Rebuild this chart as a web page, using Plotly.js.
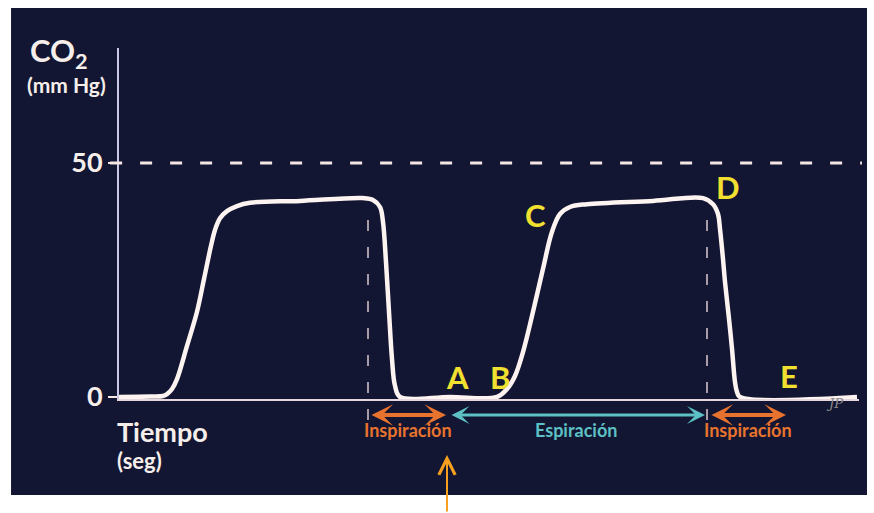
<!DOCTYPE html>
<html>
<head>
<meta charset="utf-8">
<script src="https://cdn.plot.ly/plotly-3.0.1.min.js"></script>
<style>html,body{margin:0;padding:0;background:#fff;}#chart{width:874px;height:513px;}</style>
</head>
<body>
<div id="chart"></div>
<script>
// Time (arbitrary seconds) and CO2 (mm Hg)
const time = [0.00,0.31,0.44,0.48,0.53,0.58,0.68,0.78,0.85,0.92,0.96,1.01,1.08,1.18,1.31,1.81,2.44,2.54,2.61,2.64,2.67,2.70,2.73,2.76,2.81,3.31,3.78,
              3.88,3.96,4.04,4.14,4.24,4.33,4.41,4.51,4.68,5.34,5.84,5.94,5.99,6.01,6.04,6.06,6.10,6.13,6.16,6.18,6.21,7.38];
const co2  = [0,0.1,0.2,0.6,1.7,3.8,10.9,18.2,25.2,32.3,35.7,38.2,39.7,40.8,41.5,41.9,42.5,42.1,40.6,37.4,28.8,18.2,8.1,2.4,0,0,0,
              1.7,4.5,9.6,18.2,27.4,35.3,39.1,40.6,41.2,41.9,42.5,41.2,39.1,35.9,29.5,24.6,16.7,10.3,3.2,1.1,0,0];
const yTickVals = [0, 50];
const yTickText = ['0', '50'];
const refLevel = 50;
const expEnds = [2.49, 5.88];           // end of expiration (dashed verticals)
const phaseNames = ['Inspiración', 'Espiración', 'Inspiración'];
const phaseStart = [2.51, 3.31, 5.91];
const phaseEnd   = [3.27, 5.86, 6.67];
const phaseLabelX = [2.89, 4.57, 6.29];
const pointNames = ['A', 'B', 'C', 'D', 'E'];
const pointX = [3.38, 3.81, 4.16, 6.09, 6.70];
const pointY = [4.3, 4.3, 38.9, 44.9, 4.5];

const BG = '#121632';
const ORANGE = '#e8732e';
const TEAL = '#5cc0c4';
const YELLOW = '#f2e030';
const FONT = 'Lato, "Open Sans", sans-serif';
const phaseColors = [ORANGE, TEAL, ORANGE];

const trace = {
  x: time, y: co2, type: 'scatter', mode: 'lines',
  line: {color: '#fdf3f1', width: 4.5, shape: 'spline', smoothing: 1.0},
  hoverinfo: 'skip', showlegend: false
};

const shapes = [
  {type: 'rect', xref: 'paper', yref: 'paper', x0: -0.1459, x1: 1.0108, y0: -0.2735, y1: 1.114,
   fillcolor: BG, line: {width: 0}, layer: 'below'},
  {type: 'line', xref: 'paper', yref: 'y', x0: -0.012, x1: 1.004, y0: refLevel, y1: refLevel,
   line: {color: '#f4e6e4', width: 3, dash: '12px,18px'}}
];
expEnds.forEach(t => shapes.push({type: 'line', xref: 'x', yref: 'paper', x0: t, x1: t, y0: -0.0598, y1: 0.547,
  line: {color: '#d9c9cf', width: 1.5, dash: '11px,16px'}}));

const annotations = [];
phaseNames.forEach((name, i) => {
  annotations.push({xref: 'x', yref: 'paper', x: phaseEnd[i], y: -0.0456, axref: 'x', ayref: 'pixel',
    ax: phaseStart[i], ay: 0, text: '', showarrow: true, arrowhead: 3, startarrowhead: 3,
    arrowside: 'end+start', arrowsize: i === 1 ? 1.0 : 0.9, startarrowsize: i === 1 ? 1.0 : 0.9,
    arrowwidth: i === 1 ? 3 : 4, arrowcolor: phaseColors[i], standoff: 0, startstandoff: 0});
  annotations.push({xref: 'x', yref: 'paper', x: phaseLabelX[i], y: -0.125, text: name, showarrow: false,
    font: {family: FONT, size: 18, color: phaseColors[i], weight: 'bold'}});
});
pointNames.forEach((n, i) => annotations.push({xref: 'x', yref: 'y', x: pointX[i], y: pointY[i], text: n,
  showarrow: false, font: {family: FONT, size: 31, color: YELLOW, weight: 'bold'}}));

annotations.push(
  {xref: 'paper', yref: 'paper', x: -0.122, y: 0.986, xanchor: 'left', yanchor: 'middle', text: 'CO<sub>2</sub>',
   showarrow: false, font: {family: FONT, size: 31, color: '#f6eeea', weight: 'bold'}, borderpad: 0},
  {xref: 'paper', yref: 'paper', x: -0.126, y: 0.896, xanchor: 'left', yanchor: 'middle', text: '(mm Hg)',
   showarrow: false, font: {family: FONT, size: 21, color: '#f6eeea', weight: 'bold'}, borderpad: 0},
  {xref: 'paper', yref: 'paper', x: -0.006, y: -0.094, xanchor: 'left', yanchor: 'middle', text: 'Tiempo',
   showarrow: false, font: {family: FONT, size: 27, color: '#f6eeea', weight: 'bold'}},
  {xref: 'paper', yref: 'paper', x: -0.006, y: -0.176, xanchor: 'left', yanchor: 'middle', text: '(seg)',
   showarrow: false, font: {family: FONT, size: 22, color: '#f6eeea', weight: 'bold'}},
  {xref: 'paper', yref: 'paper', x: 0.981, y: -0.04, text: 'JP', showarrow: false,
   font: {family: 'DejaVu Serif', size: 13, color: '#8a8a8a', style: 'italic'}},
  {xref: 'x', yref: 'paper', x: 3.28, y: -0.1595, ax: 0, ay: 62, text: '', showarrow: true,
   arrowhead: 5, arrowsize: 1.6, arrowwidth: 2, arrowcolor: '#f7a020', standoff: 0}
);

const layout = {
  width: 874, height: 513,
  margin: {l: 119, r: 15, t: 48, b: 114},
  paper_bgcolor: '#ffffff', plot_bgcolor: BG,
  showlegend: false,
  xaxis: {range: [0, 7.4], showline: true, linecolor: '#e6d6de', linewidth: 1.5, showticklabels: false,
          showgrid: false, zeroline: false, ticks: '', fixedrange: true},
  yaxis: {range: [-0.43, 74.57], showline: true, linecolor: '#c9c6e6', linewidth: 2, showgrid: false,
          zeroline: false, tickmode: 'array', tickvals: yTickVals, ticktext: yTickText, ticks: 'outside',
          ticklen: 9, tickwidth: 2, tickcolor: '#f4e6e4',
          tickfont: {family: FONT, size: 27, color: '#f6eeea', weight: 'bold'}, fixedrange: true},
  shapes: shapes, annotations: annotations
};

Plotly.newPlot('chart', [trace], layout, {displayModeBar: false, staticPlot: true});
</script>
</body>
</html>
